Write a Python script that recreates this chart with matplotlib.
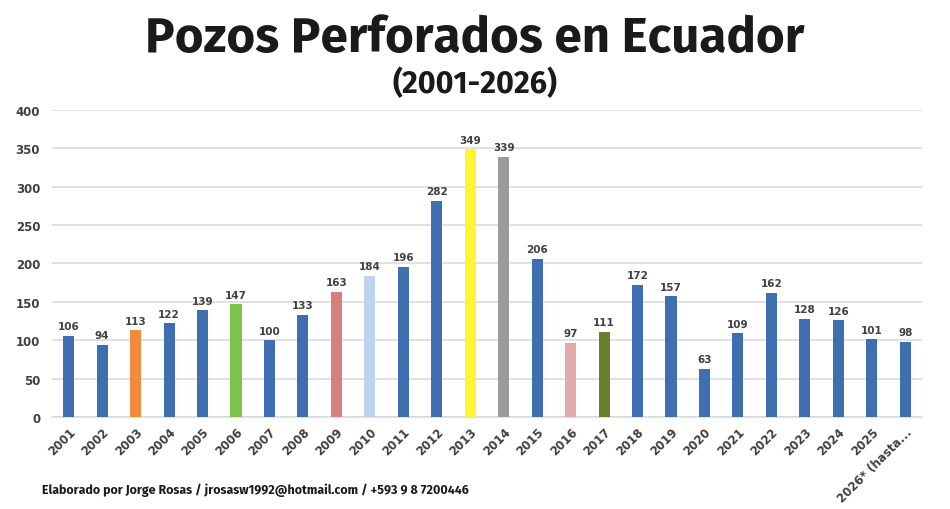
import numpy as np
import matplotlib.pyplot as plt

# --- DATA ---
years = ["2001", "2002", "2003", "2004", "2005", "2006", "2007", "2008", "2009",
         "2010", "2011", "2012", "2013", "2014", "2015", "2016", "2017", "2018",
         "2019", "2020", "2021", "2022", "2023", "2024", "2025", "2026* (hasta..."]
wells = [106, 94, 113, 122, 139, 147, 100, 133, 163, 184, 196, 282, 349, 339,
         206, 97, 111, 172, 157, 63, 109, 162, 128, 126, 101, 98]

BLUE = '#3F6FB0'
special = {"2003": '#F08A3C', "2006": '#7DC24B', "2009": '#D6817D', "2010": '#BDD3EE',
           "2013": '#FFF533', "2014": '#9A9A9A', "2016": '#E4A9AA', "2017": '#66802E'}
colors = [special.get(y, BLUE) for y in years]

TXT = '#404040'
HEAD = ['Fira Sans', 'DejaVu Sans']

fig = plt.figure(figsize=(9.5, 5.1), dpi=100, facecolor='white')
ax = fig.add_axes([0.0547, 0.1804, 0.9158, 0.602])

x = np.arange(len(years))
ax.bar(x, wells, width=0.33, color=colors, zorder=3)

for xi, v in zip(x, wells):
    ax.text(xi, v + 6, str(v), ha='center', va='bottom', fontsize=7.5,
            fontweight='bold', color=TXT, zorder=4)

ax.set_xlim(-0.5, len(years) - 0.5)
ax.set_ylim(0, 400)
ax.set_yticks(range(0, 401, 50))
ax.yaxis.grid(True, color='#D9D9D9', lw=1.1, zorder=0)
ax.set_axisbelow(True)

for s in ['top', 'right', 'left']:
    ax.spines[s].set_visible(False)
ax.spines['bottom'].set_color('#D9D9D9')
ax.spines['bottom'].set_linewidth(1.1)

ax.tick_params(axis='both', length=0)
ax.tick_params(axis='y', pad=8.5, labelsize=8.5, labelcolor=TXT)
ax.set_yticklabels([str(t) for t in range(0, 401, 50)], fontweight='bold')
ax.set_xticks(x)
ax.set_xticklabels(years, rotation=45, ha='right', rotation_mode='anchor',
                   fontsize=8.5, fontweight='bold', color=TXT)
ax.tick_params(axis='x', pad=6)

fig.text(0.5, 0.899, "Pozos Perforados en Ecuador", ha='center', va='baseline',
         fontsize=35.5, fontweight='bold', family=HEAD, color='#1A1A1A')
fig.text(0.5, 0.818, "(2001-2026)", ha='center', va='baseline',
         fontsize=22, fontweight='bold', family=HEAD, color='#1A1A1A')
fig.text(0.044, 0.031, "Elaborado por Jorge Rosas / jrosasw1992@hotmail.com / +593 9 8 7200446",
         ha='left', va='baseline', fontsize=8.95, fontweight='bold',
         family=HEAD, color='#1A1A1A')

fig.savefig("out.png", dpi=100, facecolor='white')
